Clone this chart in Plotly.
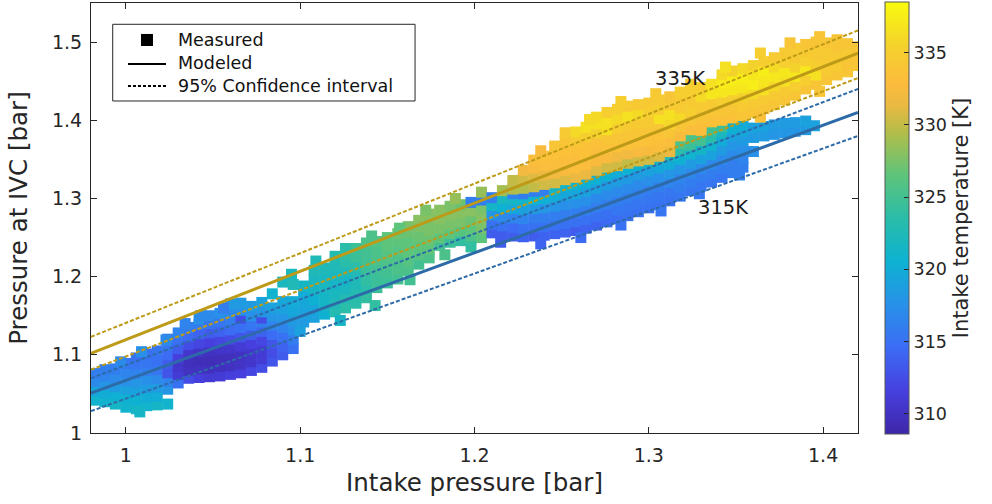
import plotly.graph_objects as go

# ---------------- data ----------------
# Measured points: (intake pressure [bar], [(pressure at IVC [bar], intake temperature [K]), ...])
low_cluster = [
    (0.982, [(1.042, 321), (1.054, 319.5), (1.066, 317), (1.076, 316)]),
    (0.988, [(1.040, 321), (1.051, 320), (1.062, 318), (1.073, 316.5), (1.081, 316)]),
    (0.994, [(1.037, 321.5), (1.048, 320.5), (1.059, 318.5), (1.070, 317), (1.082, 316)]),
    (1.000, [(1.033, 321), (1.045, 320.5), (1.056, 319), (1.067, 317.5), (1.078, 316.5), (1.089, 315.5)]),
    (1.006, [(1.031, 321.5), (1.042, 320.5), (1.054, 319), (1.065, 318), (1.076, 316.5), (1.088, 315.5), (1.096, 315)]),
    (1.012, [(1.035, 321), (1.046, 320), (1.058, 318.5), (1.069, 317.5), (1.080, 316), (1.091, 315.5), (1.101, 315)]),
    (1.018, [(1.036, 321.5), (1.047, 320), (1.059, 318.5), (1.070, 317), (1.081, 315.5), (1.093, 315), (1.105, 315.5)]),
    (1.024, [(1.037, 321), (1.056, 318), (1.066, 316.5), (1.077, 313), (1.089, 313.5), (1.100, 314.5), (1.112, 315.5), (1.120, 316)]),
    (1.030, [(1.064, 315), (1.075, 311), (1.086, 310.5), (1.097, 311.5), (1.108, 313.5), (1.119, 315), (1.128, 316.5)]),
    (1.036, [(1.070, 312.5), (1.080, 310), (1.091, 309.8), (1.102, 310.5), (1.113, 312.5), (1.124, 314.5), (1.135, 316)]),
    (1.042, [(1.071, 311.5), (1.082, 310), (1.093, 309.5), (1.104, 310.2), (1.115, 312), (1.127, 314), (1.139, 316), (1.146, 317.5)]),
    (1.048, [(1.072, 311), (1.083, 309.8), (1.094, 309.5), (1.105, 310), (1.116, 311.5), (1.128, 313.5), (1.140, 315.5), (1.150, 317)]),
    (1.054, [(1.073, 311), (1.085, 309.8), (1.096, 309.6), (1.107, 310.3), (1.118, 312), (1.130, 314), (1.142, 315.5), (1.153, 317.5)]),
    (1.060, [(1.075, 311.5), (1.086, 310), (1.098, 309.7), (1.109, 310.5), (1.120, 312.5), (1.132, 314.5), (1.144, 316), (1.154, 317), (1.165, 318.5)]),
    (1.066, [(1.077, 311.5), (1.088, 310.2), (1.100, 310), (1.111, 311), (1.123, 313), (1.135, 315), (1.147, 312.5), (1.157, 317.5), (1.166, 318.5)]),
    (1.072, [(1.080, 312), (1.091, 310.5), (1.103, 310.5), (1.114, 311.5), (1.126, 313.5), (1.138, 315.5), (1.150, 317.5), (1.162, 318.5)]),
    (1.078, [(1.084, 312.5), (1.095, 311), (1.107, 311), (1.118, 312), (1.130, 314), (1.142, 316), (1.147, 312.5), (1.155, 318), (1.167, 319)]),
    (1.084, [(1.092, 313), (1.103, 312.5), (1.114, 313), (1.126, 314.5), (1.138, 316.5), (1.150, 318), (1.160, 319), (1.178, 321)]),
    (1.090, [(1.100, 313.5), (1.111, 314), (1.123, 315), (1.135, 316.5), (1.147, 318), (1.159, 319), (1.168, 319.5), (1.193, 322)]),
    (1.096, [(1.108, 315), (1.120, 316), (1.132, 317.5), (1.144, 318.5), (1.156, 319.5), (1.168, 320), (1.190, 322.5)]),
]

mid_cluster = [
    (1.102, [(1.142, 318.5), (1.153, 319), (1.165, 319.5), (1.177, 320), (1.188, 321.5)]),
    (1.108, [(1.148, 319), (1.159, 319.5), (1.171, 320.5), (1.183, 321.5), (1.196, 322), (1.208, 322.5)]),
    (1.114, [(1.152, 320.5), (1.163, 321.5), (1.175, 321.5), (1.187, 322), (1.199, 322), (1.211, 322.5)]),
    (1.120, [(1.155, 323), (1.166, 322.5), (1.178, 322), (1.190, 321.5), (1.202, 322), (1.214, 322.5), (1.226, 323)]),
    (1.126, [(1.160, 323.5), (1.172, 323), (1.184, 322), (1.195, 321.5), (1.207, 322.5), (1.219, 323.5), (1.229, 324)]),
    (1.132, [(1.166, 323.5), (1.178, 323), (1.190, 322.5), (1.201, 322.5), (1.213, 323.5), (1.225, 324.5), (1.236, 324.5)]),
    (1.138, [(1.173, 324), (1.185, 323.5), (1.196, 324), (1.208, 324.5), (1.220, 325), (1.232, 325), (1.243, 325.5)]),
    (1.144, [(1.186, 324.5), (1.198, 324.5), (1.210, 325), (1.221, 325.5), (1.233, 325.5), (1.245, 326)]),
    (1.150, [(1.192, 324.5), (1.204, 325), (1.216, 325.5), (1.228, 326), (1.240, 326.5), (1.250, 326.5)]),
    (1.156, [(1.197, 325), (1.209, 325.5), (1.221, 325.5), (1.233, 326), (1.245, 326.5), (1.255, 327)]),
    (1.162, [(1.208, 325.5), (1.220, 326), (1.232, 326.5), (1.244, 326.5), (1.256, 327), (1.264, 327.5)]),
    (1.168, [(1.216, 325), (1.228, 326), (1.240, 326.5), (1.252, 327), (1.264, 327.5), (1.272, 328)]),
    (1.174, [(1.224, 325.5), (1.235, 326.5), (1.247, 327), (1.259, 327.5), (1.271, 327.5), (1.280, 328)]),
    (1.180, [(1.240, 325), (1.250, 326.5), (1.262, 327.5), (1.274, 328), (1.285, 328)]),
    (1.186, [(1.244, 324.5), (1.255, 326.5), (1.267, 327.5), (1.279, 328), (1.290, 327.5)]),
    (1.192, [(1.246, 324), (1.258, 326), (1.270, 327.5), (1.282, 328), (1.292, 327)]),
    (1.198, [(1.249, 325.5), (1.260, 326.5), (1.272, 327), (1.284, 328), (1.295, 316)]),
    (1.204, [(1.250, 326.5), (1.262, 327.5), (1.274, 328), (1.286, 327.5), (1.298, 316), (1.308, 328.5)]),
]

cool_cluster = [
    (1.210, [(1.256, 313.5), (1.267, 315), (1.279, 318), (1.291, 321.5), (1.301, 316)]),
    (1.216, [(1.254, 313.5), (1.265, 315), (1.277, 317), (1.289, 320.5), (1.300, 322), (1.310, 329)]),
    (1.222, [(1.252, 313.5), (1.263, 314.5), (1.275, 316.5), (1.287, 319.5), (1.298, 321.5), (1.306, 316.5)]),
    (1.228, [(1.251, 314), (1.262, 315), (1.274, 316.5), (1.286, 319), (1.298, 321), (1.306, 316)]),
    (1.234, [(1.252, 313.5), (1.263, 315), (1.275, 316), (1.287, 318.5), (1.299, 321), (1.309, 316)]),
    (1.240, [(1.253, 314), (1.264, 315), (1.276, 316), (1.288, 318), (1.300, 320.5), (1.310, 316)]),
    (1.246, [(1.255, 314), (1.266, 315), (1.278, 316), (1.290, 318), (1.302, 320), (1.312, 321.5)]),
    (1.252, [(1.257, 314), (1.268, 315), (1.280, 316), (1.292, 317.5), (1.304, 319.5), (1.316, 321)]),
    (1.258, [(1.259, 313.5), (1.270, 315), (1.282, 316), (1.294, 317.5), (1.306, 319.5), (1.318, 321)]),
    (1.264, [(1.262, 314), (1.273, 315), (1.285, 316), (1.297, 317.5), (1.309, 319), (1.321, 320.5)]),
    (1.270, [(1.266, 314), (1.277, 315), (1.289, 316), (1.301, 317), (1.313, 319), (1.325, 320.5)]),
    (1.276, [(1.270, 314.5), (1.281, 315), (1.293, 316), (1.305, 317), (1.317, 318.5), (1.329, 320.5)]),
    (1.282, [(1.274, 314.5), (1.285, 315.5), (1.297, 316), (1.309, 317), (1.321, 318.5), (1.333, 320)]),
    (1.288, [(1.278, 315), (1.289, 315.5), (1.301, 316), (1.313, 317), (1.325, 318.5), (1.337, 320.5)]),
    (1.294, [(1.283, 315), (1.294, 315.5), (1.306, 316), (1.318, 317), (1.330, 318.5), (1.342, 320.5)]),
    (1.300, [(1.288, 315), (1.299, 315.5), (1.311, 316), (1.323, 317.5), (1.335, 319), (1.346, 321)]),
    (1.306, [(1.292, 315), (1.303, 315.5), (1.315, 316), (1.327, 317.5), (1.339, 319.5), (1.350, 321.5)]),
    (1.312, [(1.297, 315), (1.308, 315.5), (1.320, 316.5), (1.332, 318), (1.344, 320), (1.355, 322.5)]),
    (1.318, [(1.303, 315.5), (1.314, 316), (1.326, 316.5), (1.338, 318), (1.350, 320.5), (1.361, 323.5), (1.370, 325.5)]),
    (1.324, [(1.310, 315.5), (1.321, 316), (1.333, 317), (1.345, 318.5), (1.357, 321), (1.368, 324.5), (1.377, 325.5)]),
    (1.330, [(1.316, 315.5), (1.327, 316), (1.339, 317), (1.351, 319), (1.363, 321.5), (1.374, 325), (1.384, 325.5)]),
    (1.336, [(1.321, 315.5), (1.332, 316), (1.344, 317), (1.356, 319), (1.368, 321), (1.378, 323.5), (1.388, 325)]),
    (1.342, [(1.327, 315.5), (1.338, 316), (1.350, 317), (1.362, 318.5), (1.374, 320), (1.384, 322), (1.392, 324.5)]),
    (1.348, [(1.333, 316), (1.344, 316), (1.356, 317), (1.368, 318), (1.380, 319), (1.390, 320.5)]),
    (1.354, [(1.340, 316), (1.351, 316.5), (1.363, 317.5), (1.375, 318.5), (1.386, 319.5), (1.394, 320)]),
    (1.360, [(1.360, 317.5), (1.378, 318.5), (1.390, 319)]),
    (1.366, [(1.380, 318.5), (1.392, 319)]),
    (1.372, [(1.382, 318), (1.394, 318.5)]),
    (1.378, [(1.384, 318), (1.396, 318.5)]),
    (1.384, [(1.386, 318), (1.397, 318.5)]),
    (1.390, [(1.388, 318.5), (1.399, 319)]),
    (1.395, [(1.393, 319)]),
]

hot_cluster = [
    (1.222, [(1.312, 329.5), (1.323, 330)]),
    (1.228, [(1.313, 329.5), (1.325, 330.5), (1.336, 332)]),
    (1.234, [(1.315, 330), (1.327, 331), (1.339, 332.5), (1.349, 333)]),
    (1.240, [(1.318, 330.5), (1.330, 331.5), (1.342, 333), (1.354, 333.5)]),
    (1.246, [(1.320, 330.5), (1.332, 332), (1.344, 333), (1.356, 333.5), (1.367, 334)]),
    (1.252, [(1.324, 331), (1.336, 332.5), (1.348, 333), (1.360, 333.5), (1.372, 334)]),
    (1.258, [(1.327, 331.5), (1.339, 333), (1.351, 333), (1.363, 333.5), (1.375, 334.5), (1.385, 336)]),
    (1.264, [(1.331, 331.5), (1.343, 333), (1.355, 333.5), (1.367, 333.5), (1.379, 335), (1.391, 336.5)]),
    (1.270, [(1.336, 331), (1.348, 332.5), (1.360, 333), (1.372, 333.5), (1.384, 335.5), (1.396, 336.5), (1.404, 336)]),
    (1.276, [(1.340, 330.5), (1.352, 332.5), (1.364, 333.5), (1.376, 334), (1.388, 336.5), (1.400, 336.5), (1.410, 335)]),
    (1.282, [(1.342, 330.5), (1.354, 332), (1.366, 333.5), (1.378, 334), (1.390, 335), (1.402, 336), (1.414, 335)]),
    (1.288, [(1.345, 330), (1.357, 332), (1.369, 333.5), (1.381, 334), (1.393, 334.5), (1.405, 336.5), (1.418, 334.5)]),
    (1.294, [(1.348, 330.5), (1.360, 332.5), (1.372, 333.5), (1.384, 334), (1.396, 334.5), (1.408, 336), (1.420, 334.5)]),
    (1.300, [(1.350, 330.5), (1.362, 332.5), (1.374, 333.5), (1.386, 334), (1.398, 334.5), (1.410, 335), (1.422, 334.5)]),
    (1.306, [(1.354, 331), (1.366, 333), (1.378, 333.5), (1.390, 334), (1.402, 336.5), (1.414, 335), (1.426, 334.5)]),
    (1.312, [(1.360, 331.5), (1.372, 333), (1.384, 334), (1.396, 336), (1.408, 336.5), (1.420, 334.5), (1.430, 334)]),
    (1.318, [(1.380, 332.5), (1.392, 334), (1.404, 336), (1.416, 334.5), (1.428, 334.5), (1.436, 335)]),
    (1.324, [(1.388, 333), (1.400, 334), (1.412, 335), (1.424, 334.5), (1.436, 335)]),
    (1.330, [(1.394, 333.5), (1.406, 334), (1.418, 334.5), (1.430, 336), (1.442, 335)]),
    (1.336, [(1.398, 333.5), (1.410, 334), (1.422, 334.5), (1.434, 337), (1.446, 336.5)]),
    (1.342, [(1.400, 333.5), (1.412, 334), (1.424, 335), (1.436, 337), (1.448, 337.5), (1.458, 336)]),
    (1.348, [(1.403, 333.5), (1.415, 334), (1.427, 335), (1.439, 337), (1.451, 337.5), (1.463, 335.5)]),
    (1.354, [(1.406, 334), (1.418, 334.5), (1.430, 335.5), (1.442, 337), (1.454, 337.5), (1.466, 336)]),
    (1.360, [(1.410, 334), (1.422, 334.5), (1.434, 336), (1.446, 337.5), (1.458, 337), (1.470, 335.5)]),
    (1.366, [(1.415, 334), (1.427, 334.5), (1.439, 336.5), (1.451, 337), (1.463, 337.5), (1.475, 335)]),
    (1.372, [(1.420, 334), (1.432, 334.5), (1.444, 336), (1.456, 337), (1.468, 336), (1.480, 334.5)]),
    (1.378, [(1.426, 334), (1.438, 334.5), (1.450, 336.5), (1.462, 337), (1.474, 335), (1.486, 334.5)]),
    (1.384, [(1.432, 334), (1.444, 335), (1.456, 337), (1.468, 335.5), (1.480, 334.5), (1.492, 334.5)]),
    (1.390, [(1.440, 334), (1.452, 335), (1.464, 337), (1.476, 335), (1.488, 334.5), (1.497, 334)]),
    (1.396, [(1.446, 334), (1.458, 336.5), (1.470, 335), (1.482, 334.5), (1.494, 334.5), (1.500, 334)]),
    (1.402, [(1.452, 334), (1.464, 334.5), (1.476, 334.5), (1.488, 334.5), (1.499, 334)]),
    (1.408, [(1.458, 334), (1.470, 334.5), (1.482, 334.5), (1.494, 334), (1.503, 334)]),
    (1.414, [(1.462, 334), (1.474, 334), (1.486, 334.5), (1.498, 334)]),
    (1.419, [(1.470, 334), (1.482, 334), (1.494, 334)]),
]

# isolated squares sticking out of the band edges: (x, y, T)
edge_points = [
    (1.008, 1.027, 321.5), (0.997, 1.091, 317), (1.009, 1.104, 317.5), (1.023, 1.119, 317),
    (1.034, 1.140, 316.5), (1.043, 1.150, 317), (1.056, 1.160, 316),
    (1.095, 1.203, 322), (1.109, 1.220, 322.5), (1.126, 1.236, 323.5), (1.141, 1.252, 325.5),
    (1.157, 1.262, 326.5), (1.172, 1.285, 327.5), (1.189, 1.300, 328.5),
    (1.100, 1.130, 319), (1.123, 1.144, 321.5), (1.143, 1.163, 324), (1.163, 1.196, 325),
    (1.183, 1.228, 325.5), (1.198, 1.238, 324),
    (1.215, 1.244, 313.5), (1.238, 1.242, 314), (1.261, 1.250, 314.5), (1.284, 1.266, 315),
    (1.307, 1.284, 315.5), (1.329, 1.306, 315.5), (1.352, 1.330, 316),
    (1.238, 1.361, 332.5), (1.252, 1.384, 334.5), (1.266, 1.401, 336), (1.284, 1.424, 335),
    (1.304, 1.434, 334.5), (1.324, 1.446, 335), (1.344, 1.468, 336.5), (1.364, 1.486, 335),
    (1.381, 1.499, 334), (1.398, 1.507, 334),
    (1.330, 1.387, 333), (1.364, 1.404, 333.5), (1.398, 1.437, 334),
]

# Modeled lines and 95% confidence intervals (end points at x = 0.98 and 1.42)
line_x = [0.98, 1.42]
model_335 = [1.102, 1.486]
ci_335_upper = [1.123, 1.515]
ci_335_lower = [1.081, 1.454]
model_315 = [1.051, 1.410]
ci_315_upper = [1.070, 1.440]
ci_315_lower = [1.028, 1.380]

x_ticks = [1.0, 1.1, 1.2, 1.3, 1.4]
x_tick_labels = ["1", "1.1", "1.2", "1.3", "1.4"]
y_ticks = [1.0, 1.1, 1.2, 1.3, 1.4, 1.5]
y_tick_labels = ["1", "1.1", "1.2", "1.3", "1.4", "1.5"]
t_ticks = [310, 315, 320, 325, 330, 335]
t_range = [308.6, 338.5]
legend_labels = ["Measured", "Modeled", "95% Confidence interval"]

# ---------------- build ----------------
px, py, pt = [], [], []
for cluster in (low_cluster, mid_cluster, cool_cluster, hot_cluster):
    for xv, pts in cluster:
        for yv, tv in pts:
            px.append(xv)
            py.append(yv)
            pt.append(tv)
for xv, yv, tv in edge_points:
    px.append(xv)
    py.append(yv)
    pt.append(tv)

parula = [
    [0.00, "#3e26a8"],
    [0.10, "#4640df"],
    [0.20, "#3c6cf5"],
    [0.30, "#2891e8"],
    [0.40, "#0db2d2"],
    [0.50, "#2abda8"],
    [0.60, "#5ec47a"],
    [0.70, "#b4bd48"],
    [0.76, "#e9b942"],
    [0.81, "#fcbb3d"],
    [0.90, "#f4d22c"],
    [1.00, "#f9fb0e"],
]

FONT = "DejaVu Sans"
INK = "#262626"
GOLD = "#bd9a17"
BLUE = "#2d6ba8"
DASH = "4px,2px"

fig = go.Figure()

fig.add_trace(go.Scatter(
    x=px, y=py, mode="markers", name=legend_labels[0], showlegend=False, hoverinfo="skip",
    marker=dict(symbol="square", size=11, color=pt, colorscale=parula,
                cmin=t_range[0], cmax=t_range[1], line=dict(width=0),
                colorbar=dict(
                    x=1.0352, xanchor="left", xpad=0, y=0.5, yanchor="middle",
                    len=1.004, thickness=24, ypad=0,
                    outlinewidth=1, outlinecolor="#555555",
                    tickvals=t_ticks, ticks="inside", ticklen=5, tickcolor=INK,
                    tickfont=dict(family=FONT, size=17.5, color=INK),
                    title=dict(text="Intake temperature [K]", side="right",
                               font=dict(family=FONT, size=21, color=INK)),
                )),
))

for yy, col, dash, w in [
    (model_335, GOLD, "solid", 3), (ci_335_upper, GOLD, DASH, 2), (ci_335_lower, GOLD, DASH, 2),
    (model_315, BLUE, "solid", 3), (ci_315_upper, BLUE, DASH, 2), (ci_315_lower, BLUE, DASH, 2),
]:
    fig.add_trace(go.Scatter(x=line_x, y=yy, mode="lines", showlegend=False, hoverinfo="skip",
                             line=dict(color=col, width=w, dash=dash)))

fig.add_annotation(x=1.318, y=1.454, text="335K", showarrow=False,
                   font=dict(family=FONT, size=19.5, color="#1a1a1a"))
fig.add_annotation(x=1.3427, y=1.289, text="315K", showarrow=False,
                   font=dict(family=FONT, size=19.5, color="#1a1a1a"))

# ---- legend box (drawn in paper coordinates, MATLAB style) ----
fig.add_shape(type="rect", xref="paper", yref="paper", x0=0.0283, x1=0.4225, y0=0.7721, y1=0.9505,
              line=dict(color=INK, width=1), fillcolor="white", layer="above")
fig.add_shape(type="rect", xref="paper", yref="paper", x0=0.0652, x1=0.0808, y0=0.9000, y1=0.9280,
              line=dict(width=0), fillcolor="black", layer="above")
fig.add_shape(type="line", xref="paper", yref="paper", x0=0.0482, x1=0.0978, y0=0.8581, y1=0.8581,
              line=dict(color="black", width=2), layer="above")
fig.add_shape(type="line", xref="paper", yref="paper", x0=0.0482, x1=0.0978, y0=0.8070, y1=0.8070,
              line=dict(color="black", width=2, dash="3px,2px"), layer="above")
for lab, yp in zip(legend_labels, [0.9128, 0.8610, 0.8080]):
    fig.add_annotation(xref="paper", yref="paper", x=0.1108, y=yp, xanchor="left", yanchor="middle",
                       text=lab, showarrow=False,
                       font=dict(family=FONT, size=17.5, color="#111111"))

axis_common = dict(showgrid=False, zeroline=False, showline=True, linecolor=INK, linewidth=1,
                   mirror="ticks", ticks="inside", ticklen=6, tickcolor=INK,
                   tickfont=dict(family=FONT, size=19, color=INK))

fig.update_layout(
    width=992, height=504,
    margin=dict(l=91, r=134, t=3, b=71, autoexpand=False),
    paper_bgcolor="white", plot_bgcolor="white",
    font=dict(family=FONT, color=INK),
    xaxis=dict(range=[0.98, 1.42], tickvals=x_ticks, ticktext=x_tick_labels, ticklabelstandoff=5,
               title=dict(text="Intake pressure [bar]", font=dict(family=FONT, size=24.5, color=INK), standoff=9),
               **axis_common),
    yaxis=dict(range=[1.0, 1.55], tickvals=y_ticks, ticktext=y_tick_labels, ticklabelstandoff=4,
               title=dict(text="Pressure at IVC [bar]", font=dict(family=FONT, size=24.5, color=INK), standoff=17),
               **axis_common),
    showlegend=False,
)

fig.write_html("out.html")
